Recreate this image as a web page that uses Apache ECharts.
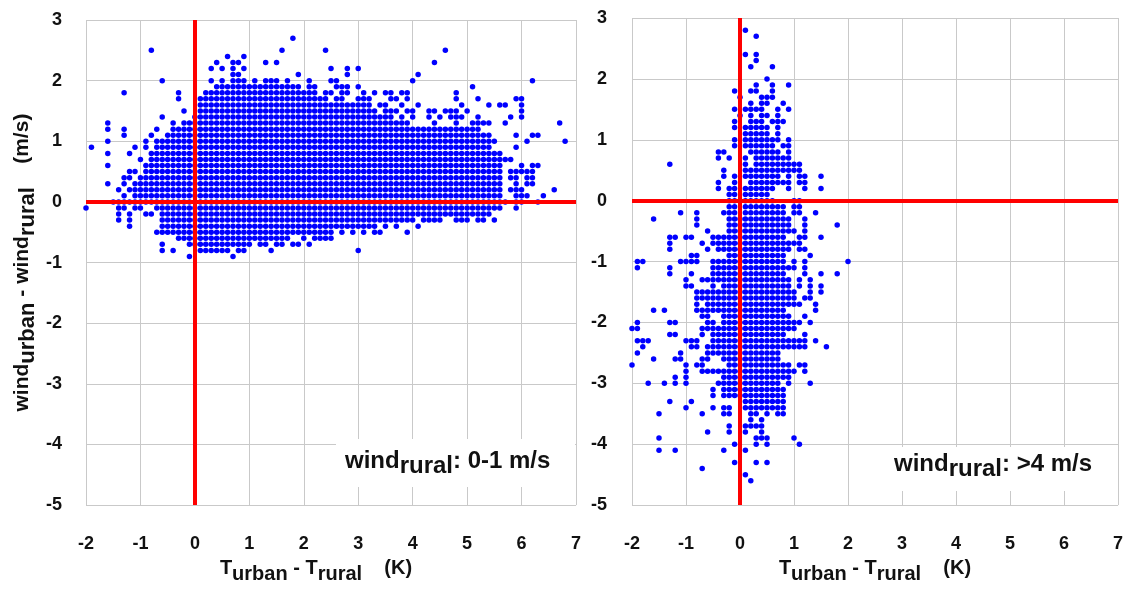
<!DOCTYPE html>
<html><head><meta charset="utf-8">
<script src="https://cdn.jsdelivr.net/npm/echarts@6/dist/echarts.min.js"></script>
<style>html,body{margin:0;padding:0;background:#fff}#c{width:1129px;height:589px}</style>
</head><body><div id="c"></div>
<script>
// Axis ranges
const xRange = [-2, 7];
const yRange = [-5, 3];
const panelLabels = ['0-1 m/s', '>4 m/s'];

// Left panel (wind_rural 0-1 m/s): rows of [y, dense x-ranges, single x values]
const leftRows = [
  [2.7, [], [1.8]],
  [2.5, [], [-0.8, 1.6, 2.4, 4.6]],
  [2.4, [], [0.6, 0.9]],
  [2.3, [], [0.4, 0.7, 0.8, 1.3, 1.5, 4.4]],
  [2.2, [], [0.3, 0.5, 0.7, 0.9, 2.5, 2.8, 3.0]],
  [2.1, [], [0.7, 0.8, 1.9, 2.8, 4.1]],
  [2.0, [], [-0.6, 0.3, 0.5, 0.7, 0.8, 0.9, 1.1, 1.3, 1.4, 1.5, 1.7, 2.1, 2.5, 2.6, 4.0, 6.2]],
  [1.9, [[0.4, 1.9]], [2.1, 2.2, 2.6, 2.7, 2.8, 3.0, 5.1]],
  [1.8, [[0.2, 2.2], [2.4, 2.5]], [-1.3, -0.3, 2.7, 2.8, 3.1, 3.3, 3.5, 3.6, 3.8, 3.9, 4.8]],
  [1.7, [[0.1, 2.4]], [-0.3, 2.6, 2.7, 3.0, 3.1, 3.2, 3.6, 3.7, 3.9, 4.8, 5.2, 5.9, 6.0]],
  [1.6, [[0.1, 3.2]], [3.4, 3.5, 3.8, 4.1, 4.9, 5.4, 5.6, 5.7, 6.0]],
  [1.5, [[0.1, 3.3]], [-0.2, 3.5, 3.6, 3.7, 3.9, 4.0, 4.3, 4.4, 4.6, 4.7, 4.8, 5.0, 6.0]],
  [1.4, [[0.0, 3.6]], [-0.6, 3.8, 4.0, 4.3, 4.5, 4.7, 4.8, 4.9, 5.2, 5.8, 6.0]],
  [1.3, [[-0.2, 3.9]], [-1.6, -0.4, 4.4, 4.8, 5.1, 5.2, 5.3, 5.4, 5.7, 6.7]],
  [1.2, [[-0.4, 5.2]], [-1.6, -1.3, -0.7]],
  [1.1, [[-0.5, 5.4]], [-1.3, -0.8, 5.9, 6.2, 6.3]],
  [1.0, [[-0.7, 5.5]], [-1.6, -0.9, 6.1, 6.8]],
  [0.9, [[-0.7, 5.4]], [-1.9, -1.1, -0.9, 5.9]],
  [0.8, [[-0.8, 5.6]], [-1.6, -1.2]],
  [0.7, [[-0.8, 5.8]], [-1.0]],
  [0.6, [[-0.9, 5.6]], [-1.6, 6.0, 6.2, 6.3]],
  [0.5, [[-0.9, 5.6], [5.8, 6.2]], [-1.2, -1.1]],
  [0.4, [[-1.0, 5.6]], [-1.3, -1.2, 5.8, 5.9, 6.1, 6.2]],
  [0.3, [[-1.1, 5.6]], [-1.6, -1.3, 5.9, 6.1, 6.2]],
  [0.2, [[-1.2, 5.6]], [-1.4, 5.8, 5.9, 6.0, 6.6]],
  [0.1, [[-1.1, 5.6]], [-1.3, 5.9, 6.0, 6.1, 6.4]],
  [0.0, [[-1.5, 5.7]], [5.9, 6.0, 6.3]],
  [-0.1, [[-0.7, 5.6]], [-2.0, -1.4, -1.3, -1.1, -1.0, 5.9]],
  [-0.2, [[-0.6, 5.4]], [-1.4, -1.2, -0.9, -0.8]],
  [-0.3, [[-0.6, 3.9], [4.2, 4.5], [4.8, 5.0]], [-1.4, -1.2, 4.0, 5.2, 5.3, 5.5]],
  [-0.4, [[-0.6, 3.3]], [-1.2, 3.5, 3.7, 4.1]],
  [-0.5, [[-0.7, 2.5]], [2.7, 2.9, 3.1, 3.3, 3.4, 3.9]],
  [-0.6, [[-0.3, 1.7]], [2.0, 2.2, 2.3, 2.4, 2.5]],
  [-0.7, [[-0.1, 1.0]], [-0.6, 1.2, 1.3, 1.5, 1.6, 1.8, 1.9, 2.1]],
  [-0.8, [[0.1, 0.6]], [-0.6, -0.4, 0.8, 0.9, 1.4, 3.0]],
  [-0.9, [], [-0.1, 0.7]]
];

// Right panel (wind_rural >4 m/s)
const rightRows = [
  [2.8, [], [0.1]],
  [2.7, [], [0.3]],
  [2.4, [], [0.1, 0.3]],
  [2.3, [], [0.3]],
  [2.2, [], [0.2, 0.6]],
  [2.0, [], [0.5]],
  [1.9, [], [0.3, 0.6, 0.9]],
  [1.8, [], [-0.1, 0.2, 0.3, 0.6]],
  [1.7, [], [0.0, 0.4, 0.5, 0.6]],
  [1.6, [], [0.2, 0.4, 0.5, 0.8]],
  [1.5, [], [-0.1, 0.1, 0.2, 0.3, 0.4, 0.7, 0.9]],
  [1.4, [], [0.0, 0.2, 0.4, 0.5, 0.7]],
  [1.3, [], [-0.1, 0.2, 0.3, 0.4, 0.6, 0.7, 0.8]],
  [1.2, [[0.1, 0.5]], [-0.1, 0.7]],
  [1.1, [[0.1, 0.5]], [0.7]],
  [1.0, [[0.1, 0.7]], [-0.1, 0.9]],
  [0.9, [[0.1, 0.6]], [-0.1, 0.8, 0.9]],
  [0.8, [[0.2, 0.7]], [-0.4, -0.3, 0.9]],
  [0.7, [[0.3, 0.8]], [-0.4, -0.2, 0.1, 0.9]],
  [0.6, [[0.3, 1.0]], [-1.3, 0.1, 1.1]],
  [0.5, [[0.1, 1.1]], [-0.3]],
  [0.4, [[0.1, 0.7]], [-0.3, -0.1, 0.9, 1.1, 1.2, 1.5]],
  [0.3, [[0.2, 0.8]], [-0.4, -0.1, 0.9, 1.1, 1.2]],
  [0.2, [[0.1, 0.6]], [-0.4, -0.2, -0.1, 0.9, 1.2, 1.5]],
  [0.1, [[0.1, 0.5]], [-0.2, -0.1]],
  [0.0, [[-0.2, 0.6]], [1.0, 1.1]],
  [-0.1, [[0.1, 0.8]], [-0.2, -0.1, 1.0, 1.1]],
  [-0.2, [[0.1, 0.8]], [-1.1, -0.8, -0.3, -0.2, -0.1, 1.0, 1.1, 1.4]],
  [-0.3, [[-0.2, 0.9]], [-1.6, -0.8, 1.2]],
  [-0.4, [[-0.2, 0.9]], [-0.8, 1.2, 1.8]],
  [-0.5, [[-0.2, 1.0]], [-0.6, 1.2]],
  [-0.6, [[-0.5, 0.8]], [-1.3, -1.2, -1.0, -0.9, 1.1, 1.2, 1.5]],
  [-0.7, [[-0.5, 1.0]], [-1.3, -0.7, 1.1]],
  [-0.8, [[-0.4, 0.9]], [-1.3, -0.6, 1.1, 1.2]],
  [-0.9, [[-0.2, 0.8]], [-0.9, -0.8, 1.3]],
  [-1.0, [[-0.5, 0.8]], [-1.9, -1.8, -1.1, -1.0, -0.9, -0.8, 1.0, 1.2, 2.0]],
  [-1.1, [[-0.5, 1.0]], [-1.9, -1.3, 1.2]],
  [-1.2, [[-0.5, 0.8]], [-1.3, -0.9, 1.2, 1.5, 1.8]],
  [-1.3, [[-0.7, 0.9]], [-1.0, 1.1, 1.3]],
  [-1.4, [[-0.3, 0.9]], [-1.0, -0.9, -0.5, 1.1, 1.3, 1.5]],
  [-1.5, [[-0.8, 1.0]], [1.3, 1.5]],
  [-1.6, [[-0.8, 1.0]], [1.2, 1.3]],
  [-1.7, [[-0.6, 1.1]], [-0.8, 1.4]],
  [-1.8, [[-0.8, 0.8]], [-1.6, -1.4, 1.4]],
  [-1.9, [[-0.3, 0.9]], [-0.7, -0.6, 1.2]],
  [-2.0, [[-0.3, 1.1]], [-1.9, -1.3, -1.2, -0.6, -0.5, 1.3]],
  [-2.1, [[-0.7, 1.0]], [-2.0, -1.9]],
  [-2.2, [[-0.5, 0.8]], [-1.3, -1.2, -0.7, 1.2]],
  [-2.3, [[-0.5, 1.2]], [-1.9, -1.8, -1.7, -1.0, -0.9, -0.8, 1.4]],
  [-2.4, [[-0.6, 1.2]], [-1.8, -0.9, -0.8, 1.6]],
  [-2.5, [[-0.6, 0.7]], [-1.9, -1.1]],
  [-2.6, [[-0.3, 0.7]], [-1.6, -1.2, -1.1, -0.7, -0.6]],
  [-2.7, [[-0.2, 0.9]], [-2.0, -1.0, -0.8, -0.7, 1.1, 1.2]],
  [-2.8, [[-0.7, 1.0]], [-1.0, 1.2]],
  [-2.9, [[-0.3, 0.9]], [-1.2, -1.0]],
  [-3.0, [[-0.4, 0.7]], [-1.7, -1.4, -1.2, -1.0, 0.9, 1.3]],
  [-3.1, [[-0.3, 0.8]], [-0.5]],
  [-3.2, [[-0.3, 0.8]], [-0.5]],
  [-3.3, [[0.1, 0.8]], [-1.3, -0.9]],
  [-3.4, [[0.1, 0.8]], [-1.0, -0.5, -0.3, -0.2]],
  [-3.5, [], [-1.5, -0.7, -0.3, -0.2, 0.2, 0.3, 0.5, 0.7, 0.8]],
  [-3.6, [], [0.2, 0.4]],
  [-3.7, [], [-0.2, 0.1, 0.2, 0.3, 0.4]],
  [-3.8, [], [-0.6, -0.2, 0.1, 0.4]],
  [-3.9, [], [-1.5, 0.3, 0.4, 0.5, 1.0]],
  [-4.0, [], [-0.1, 0.3, 0.5, 1.1]],
  [-4.1, [], [-1.5, -1.2, -0.3, 0.1]],
  [-4.3, [], [-0.1, 0.3, 0.5]],
  [-4.4, [], [-0.7]],
  [-4.5, [], [0.1]],
  [-4.6, [], [0.2]]
];

function expand(rows) {
  const pts = [];
  rows.forEach(([y, ranges, singles]) => {
    ranges.forEach(([a, b]) => {
      for (let k = Math.round(a * 10); k <= Math.round(b * 10); k++) pts.push([k / 10, y]);
    });
    singles.forEach(x => pts.push([x, y]));
  });
  return pts;
}

const FONT = 'Liberation Sans';
const TXT = '#111';
const GRIDC = '#c9c9c9';
function richSet(mainSize, subSize) {
  return {
    m: { fontFamily: FONT, fontWeight: 'bold', fontSize: mainSize, color: TXT, lineHeight: 22, verticalAlign: 'top' },
    s: { fontFamily: FONT, fontWeight: 'bold', fontSize: subSize, color: TXT, lineHeight: 32, verticalAlign: 'middle' }
  };
}

function xAxisCfg(idx, pad) {
  return {
    type: 'value', gridIndex: idx, min: xRange[0], max: xRange[1], interval: 1,
    name: '{m|T}{s|urban}{m| - T}{s|rural}{m|    (K)}',
    nameLocation: 'middle', nameGap: 44,
    nameTextStyle: { rich: richSet(20, 20), padding: [0, pad, 0, 0] },
    axisLine: { show: false },
    axisTick: { show: true, length: 16, lineStyle: { color: GRIDC } },
    axisLabel: { margin: 30, fontFamily: FONT, fontWeight: 'bold', fontSize: 18, color: TXT },
    splitLine: { show: true, lineStyle: { color: GRIDC, width: 1 } }
  };
}
function yAxisCfg(idx, withName, margin) {
  const c = {
    type: 'value', gridIndex: idx, min: yRange[0], max: yRange[1], interval: 1,
    axisLine: { show: false },
    axisTick: { show: true, length: 17, lineStyle: { color: GRIDC } },
    axisLabel: { margin: margin, fontFamily: FONT, fontWeight: 'bold', fontSize: 18, color: TXT },
    splitLine: { show: true, lineStyle: { color: GRIDC, width: 1 } }
  };
  if (withName) {
    c.name = '{m|wind}{s|urban}{m| - wind}{s|rural}{m|    (m/s)}';
    c.nameLocation = 'middle';
    c.nameGap = 42;
    c.nameTextStyle = { rich: richSet(21, 22) };
  }
  return c;
}

const redLine = {
  silent: true, symbol: 'none', animation: false,
  label: { show: false },
  lineStyle: { color: '#ff0000', width: 4, type: 'solid' },
  data: [{ yAxis: 0 }, { xAxis: 0 }]
};

function scatter(idx, rows) {
  return {
    type: 'scatter', xAxisIndex: idx, yAxisIndex: idx,
    data: expand(rows), symbolSize: 5.5,
    itemStyle: { color: '#0000ff', opacity: 1 },
    animation: false, silent: true,
    markLine: redLine
  };
}

function note(left, top, w, h, tx, ty, label) {
  return [
    { type: 'rect', left: left, top: top, z: 100, shape: { width: w, height: h }, style: { fill: '#ffffff' } },
    { type: 'text', left: left + tx, top: top + ty, z: 101, style: {
        text: '{m|wind}{s|rural}{m|: ' + label + '}',
        rich: {
          m: { fontFamily: FONT, fontWeight: 'bold', fontSize: 24, fill: TXT, lineHeight: 24, verticalAlign: 'top' },
          s: { fontFamily: FONT, fontWeight: 'bold', fontSize: 24, fill: TXT, lineHeight: 34, verticalAlign: 'middle' }
        }
    } }
  ];
}

const chart = echarts.init(document.getElementById('c'), null, { renderer: 'canvas' });
chart.setOption({
  backgroundColor: '#fff',
  animation: false,
  grid: [
    { left: 86, right: 553, top: 20, bottom: 81 },
    { left: 632, right: 11, top: 18, bottom: 82 }
  ],
  xAxis: [xAxisCfg(0, 30), xAxisCfg(1, 0)],
  yAxis: [yAxisCfg(0, true, 24), yAxisCfg(1, false, 25)],
  series: [scatter(0, leftRows), scatter(1, rightRows)],
  graphic: [].concat(
    note(336, 439, 239, 48, 9, 10, panelLabels[0]),
    note(889, 447, 228, 44, 5, 5, panelLabels[1])
  )
});
</script></body></html>
